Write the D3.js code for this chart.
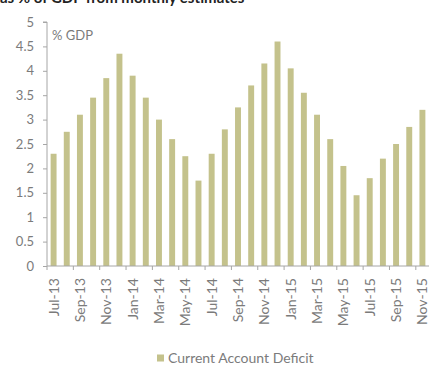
<!DOCTYPE html>
<html>
<head>
<meta charset="utf-8">
<script src="https://cdn.jsdelivr.net/npm/d3@7/dist/d3.min.js"></script>
<style>
  html, body { margin: 0; padding: 0; background: #fff; }
  svg { display: block; }
  text { font-family: Lato, "Open Sans", sans-serif; }
</style>
</head>
<body>
<svg id="chart" width="437" height="365"></svg>
<script>
// Monthly current account deficit, % of GDP
const months = [
  "Jul-13","Aug-13","Sep-13","Oct-13","Nov-13","Dec-13",
  "Jan-14","Feb-14","Mar-14","Apr-14","May-14","Jun-14",
  "Jul-14","Aug-14","Sep-14","Oct-14","Nov-14","Dec-14",
  "Jan-15","Feb-15","Mar-15","Apr-15","May-15","Jun-15",
  "Jul-15","Aug-15","Sep-15","Oct-15","Nov-15"
];
const deficit = [
  2.3, 2.75, 3.1, 3.45, 3.85, 4.35,
  3.9, 3.45, 3.0, 2.6, 2.25, 1.75,
  2.3, 2.8, 3.25, 3.7, 4.15, 4.6,
  4.05, 3.55, 3.1, 2.6, 2.05, 1.45,
  1.8, 2.2, 2.5, 2.85, 3.2
];
const yTicks = [0, 0.5, 1, 1.5, 2, 2.5, 3, 3.5, 4, 4.5, 5];
const xLabels = months.filter((d, i) => i % 2 === 0);
const seriesName = "Current Account Deficit";
const unitLabel = "% GDP";

const barColor = "#c4c28c";
const axisColor = "#a6a6a6";
const textColor = "#7b7b7b";

const svg = d3.select("#chart");

const x = d3.scaleBand()
  .domain(months)
  .range([47, 429])
  .paddingInner(0.55)
  .paddingOuter(0.275);

const y = d3.scaleLinear()
  .domain([0, 5])
  .range([266, 22]);

// heading line from the surrounding page, mostly cut off at the top edge
svg.append("text")
  .attr("x", 0)
  .attr("y", 3)
  .attr("font-family", "'Liberation Serif', serif")
  .attr("font-weight", "bold")
  .attr("font-size", 15)
  .attr("fill", "#222")
  .text("as % of GDP from monthly estimates");

// bars
svg.append("g")
  .selectAll("rect")
  .data(months)
  .join("rect")
  .attr("x", d => x(d))
  .attr("width", x.bandwidth())
  .attr("y", (d, i) => y(deficit[i]))
  .attr("height", (d, i) => y(0) - y(deficit[i]))
  .attr("fill", barColor);

// y axis
const yAxis = svg.append("g")
  .attr("transform", `translate(${x.range()[0]},0)`)
  .call(d3.axisLeft(y)
    .tickValues(yTicks)
    .tickSize(4)
    .tickPadding(9)
    .tickFormat(d => String(d)));
yAxis.select(".domain").attr("stroke", axisColor).attr("d", `M-4,${y(5)}H0V${y(0)}`);
yAxis.selectAll(".tick line").attr("stroke", axisColor);
yAxis.selectAll(".tick text")
  .attr("fill", textColor)
  .attr("font-size", 13)
  .attr("font-family", "Lato, sans-serif");

// x axis: labels on every other month, tick marks on band edges
const xAxis = svg.append("g")
  .attr("transform", `translate(0,${y(0)})`)
  .call(d3.axisBottom(x).tickValues(xLabels).tickSize(0).tickPadding(0));
xAxis.select(".domain").attr("stroke", axisColor).attr("d", `M${x.range()[0]},0H${x.range()[1]}`);
xAxis.selectAll(".tick text")
  .attr("fill", textColor)
  .attr("font-size", 14)
  .attr("font-family", "Lato, sans-serif")
  .attr("text-anchor", "end")
  .attr("dx", 0)
  .attr("dy", 0)
  .attr("transform", "translate(5,12) rotate(-90)");

const edgeOffset = (x.step() - x.bandwidth()) / 2;
xAxis.append("g")
  .selectAll("line")
  .data(xLabels)
  .join("line")
  .attr("x1", d => x(d) - edgeOffset)
  .attr("x2", d => x(d) - edgeOffset)
  .attr("y1", 0)
  .attr("y2", 4)
  .attr("stroke", axisColor);

// unit label
svg.append("text")
  .attr("x", 52)
  .attr("y", 40)
  .attr("fill", textColor)
  .attr("font-size", 13)
  .text(unitLabel);

// legend
const legend = svg.append("g").attr("transform", "translate(157,358)");
legend.append("rect")
  .attr("x", 0)
  .attr("y", -3.5)
  .attr("width", 7)
  .attr("height", 7)
  .attr("fill", barColor);
legend.append("text")
  .attr("x", 11)
  .attr("y", 0)
  .attr("dy", "0.35em")
  .attr("fill", textColor)
  .attr("font-size", 14)
  .text(seriesName);
</script>
</body>
</html>
